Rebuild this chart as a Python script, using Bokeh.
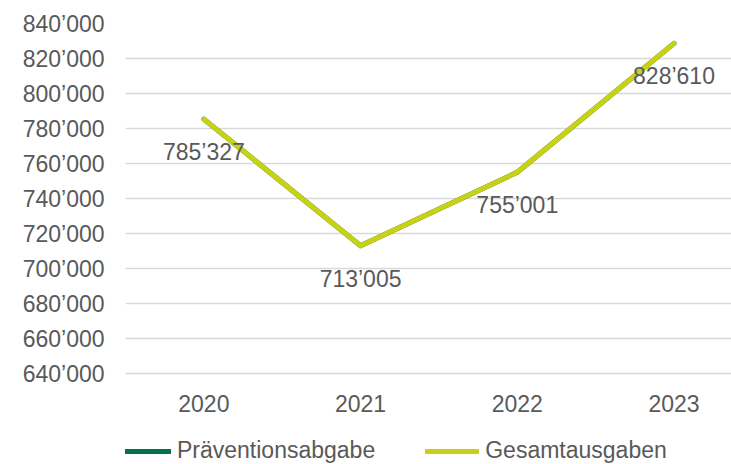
from bokeh.plotting import figure
from bokeh.models import Range1d, FixedTicker, Legend, LegendItem, ColumnDataSource
from bokeh.core.properties import value
from bokeh.embed import file_html
from bokeh.resources import INLINE

years = ["2020", "2021", "2022", "2023"]
praevention = [785327, 713005, 755001, 828610]
gesamt = [785327, 713005, 755001, 828610]
y_ticks = [640000, 660000, 680000, 700000, 720000, 740000, 760000, 780000, 800000, 820000, 840000]


def fmt(v):
    return f"{v:,}".replace(",", "\u2019")


xs = list(range(len(years)))
src = ColumnDataSource(dict(x=xs, p=praevention, g=gesamt, lab=[fmt(v) for v in gesamt]))
xsrc = ColumnDataSource(dict(x=xs, y=[y_ticks[0]] * len(xs), t=years))

FONT = "Liberation Sans"
GREY = "#595959"

# frame runs from y=23 to the bottom of the page; 200'000 units span 350 px
frame_h = 441
y_start = y_ticks[0] - (frame_h - 350) * (y_ticks[-1] - y_ticks[0]) / 350

p = figure(frame_width=606, frame_height=frame_h, output_backend="svg", toolbar_location=None,
           x_range=Range1d(-0.5, 3.367), y_range=Range1d(y_start, y_ticks[-1]),
           min_border_left=125, min_border_right=0, min_border_top=23, min_border_bottom=0)
p.outline_line_color = None
p.background_fill_color = "white"
p.border_fill_color = "white"

r1 = p.line("x", "p", source=src, line_color="#00754A", line_width=5, line_cap="round", line_join="round")
r2 = p.line("x", "g", source=src, line_color="#C9D116", line_width=5, line_cap="round", line_join="round")

p.text("x", "g", text="lab", source=src, text_align="center", text_baseline="middle",
       y_offset=33, text_color=GREY, text_font=value(FONT), text_font_size="23px")

# category labels under the lowest gridline
p.text("x", "y", text="t", source=xsrc, text_align="center", text_baseline="middle",
       y_offset=30, text_color=GREY, text_font=value(FONT), text_font_size="23px")

p.xaxis.visible = False
p.yaxis.ticker = FixedTicker(ticks=y_ticks)
p.yaxis.major_label_overrides = {v: fmt(v) for v in y_ticks}

ax = p.yaxis[0]
ax.axis_line_color = None
ax.major_tick_line_color = None
ax.minor_tick_line_color = None
ax.major_tick_in = 0
ax.major_tick_out = 0
ax.major_label_text_color = GREY
ax.major_label_text_font = FONT
ax.major_label_text_font_size = "23px"
ax.major_label_standoff = 21

p.xgrid.grid_line_color = None
p.ygrid.grid_line_color = "#d9d9d9"
p.ygrid.grid_line_width = 1.5

legend = Legend(items=[LegendItem(label="Präventionsabgabe", renderers=[r1]),
                       LegendItem(label="Gesamtausgaben", renderers=[r2])],
                orientation="horizontal", location=(-8, 0), padding=0, margin=0,
                border_line_color=None, background_fill_alpha=0,
                glyph_width=54, glyph_height=20, label_standoff=6, spacing=50,
                label_text_font=FONT, label_text_font_size="23px", label_text_color=GREY)
p.add_layout(legend, "center")

open("out.html", "w").write(file_html(p, INLINE))
